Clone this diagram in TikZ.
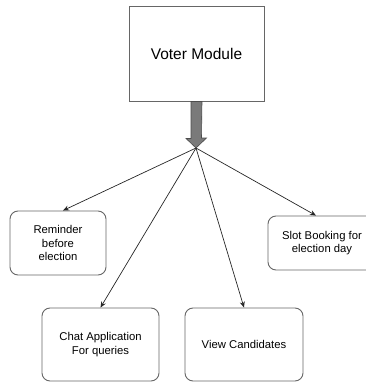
\documentclass[tikz,border=0pt]{standalone}
\usepackage{fontspec}
\setmainfont{Liberation Sans}
\usetikzlibrary{arrows.meta}
\begin{document}
\begin{tikzpicture}[x=1pt,y=1pt,
  modbox/.style={draw=black!60, line width=0.9pt, fill=white, align=center,
    font=\fontsize{15.5}{18}\selectfont, inner sep=0pt},
  featbox/.style={draw=black!60, line width=0.9pt, fill=white, rounded corners=8pt,
    align=center, font=\fontsize{11.3}{13.8}\selectfont, inner sep=0pt},
  link/.style={draw=black!85, line width=0.7pt, -{Stealth[length=6pt,width=5pt]}}]
\useasboundingbox (0,0) rectangle (366,-383);
\clip (0,0) rectangle (366,-383);

% main module
\node[modbox, minimum width=135pt, minimum height=95pt] (voter) at (196.5,-53.5) {Voter Module};

% feature boxes
\node[featbox, minimum width=96pt, minimum height=64pt] (rem) at (58,-243) {Reminder\\before\\election};
\node[featbox, minimum width=108pt, minimum height=54pt] (slot) at (322,-243) {Slot Booking for\\election day};
\node[featbox, minimum width=117pt, minimum height=73pt] (chat) at (100.5,-344.5) {Chat Application\\For queries};
\node[featbox, minimum width=118pt, minimum height=73pt] (view) at (244,-344.5) {View Candidates};

% thick block arrow below the module
\coordinate (hub) at (196,-148);
\draw[draw=black!70, fill=black!52, line width=0.6pt]
  ([xshift=-5.5pt]voter.south) -- ++(0,-37) -- ++(-5,0) -- (hub)
  -- ++(10.5,10) -- ++(-5,0) -- ([xshift=5.5pt]voter.south) -- cycle;

% connectors fanning out
\draw[link] (hub) -- ([xshift=5pt]rem.north);
\draw[link] (hub) -- ([xshift=-6pt]slot.north);
\draw[link] (hub) -- (chat.north);
\draw[link] (hub) -- (view.north);
\end{tikzpicture}
\end{document}
